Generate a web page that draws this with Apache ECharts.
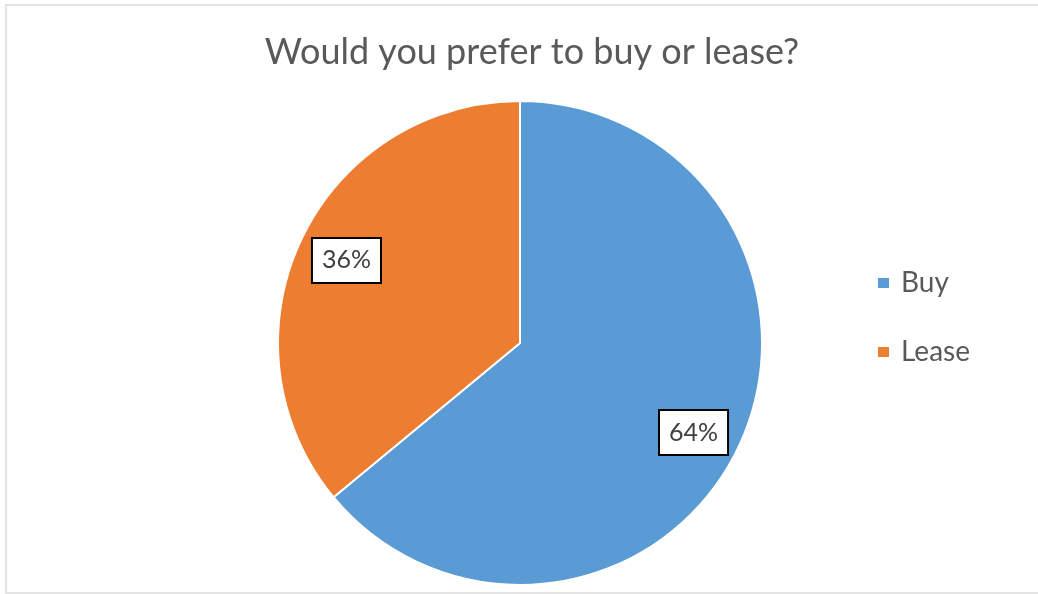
<!DOCTYPE html>
<html>
<head>
<meta charset="utf-8">
<style>
  html, body { margin: 0; padding: 0; background: #fff; }
  #chart { width: 1038px; height: 594px; }
</style>
<script src="https://cdn.jsdelivr.net/npm/echarts@6/dist/echarts.min.js"></script>
</head>
<body>
<div id="chart"></div>
<script>
// Survey answers
const titleText = 'Would you prefer to buy or lease?';
const categories = ['Buy', 'Lease'];
const shares = [64, 36];
const sliceColors = ['#5B9BD5', '#ED7D31'];

const FONT = 'Lato';
const chart = echarts.init(document.getElementById('chart'), null, { renderer: 'canvas' });

const pieData = categories.map((name, i) => ({
  name,
  value: shares[i],
  itemStyle: { color: sliceColors[i] }
}));

const center = [520, 343];
const outerR = 242;

chart.setOption({
  backgroundColor: '#ffffff',
  animation: false,
  title: {
    text: titleText,
    left: 527,
    top: 29,
    textAlign: 'center',
    textStyle: { fontFamily: FONT, fontSize: 36, fontWeight: 'normal', color: '#595959' }
  },
  legend: {
    orient: 'vertical',
    left: 871,
    top: 264,
    itemWidth: 13,
    itemHeight: 12,
    itemGap: 41,
    icon: 'rect',
    data: categories,
    textStyle: { fontFamily: FONT, fontSize: 28, color: '#595959', padding: [0, 0, 0, 6] }
  },
  graphic: [{
    type: 'rect',
    shape: { x: 6, y: 5, width: 1100, height: 588 },
    style: { fill: 'none', stroke: '#e4e4e4', lineWidth: 2 },
    silent: true,
    z: -1
  }],
  series: [
    {
      type: 'pie',
      center,
      radius: [0, outerR],
      startAngle: 90,
      clockwise: true,
      label: { show: false },
      labelLine: { show: false },
      itemStyle: { borderColor: '#ffffff', borderWidth: 2 },
      emphasis: { disabled: true },
      data: pieData
    },
    {
      // transparent ring that carries the percentage labels near the rim
      type: 'pie',
      center,
      radius: [140, outerR],
      startAngle: 90,
      clockwise: true,
      silent: true,
      legendHoverLink: false,
      itemStyle: { color: 'rgba(0,0,0,0)' },
      labelLine: { show: false },
      emphasis: { disabled: true },
      label: {
        show: true,
        position: 'inside',
        formatter: p => p.value + '%',
        fontFamily: FONT,
        fontSize: 25,
        color: '#404040',
        backgroundColor: '#ffffff',
        borderColor: '#000000',
        borderWidth: 2,
        padding: [10, 9, 8, 9]
      },
      labelLayout: p => (p.dataIndex === 0 ? { dx: -2, dy: 7 } : { dx: 2 }),
      data: pieData.map(d => ({ name: d.name, value: d.value }))
    }
  ]
});
</script>
</body>
</html>
